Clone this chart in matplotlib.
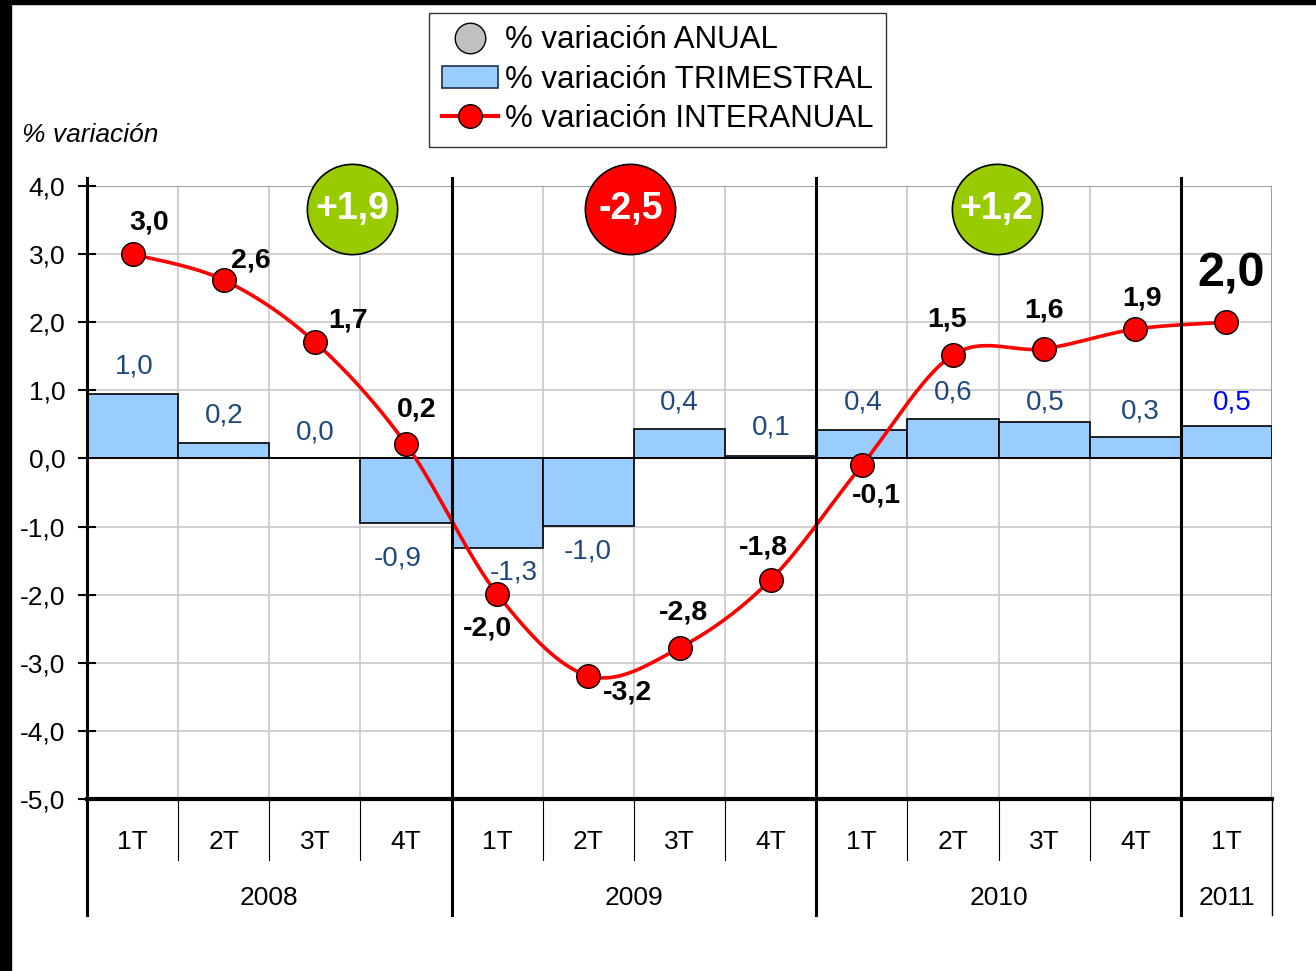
import numpy as np
import matplotlib
matplotlib.use("Agg")
import matplotlib.pyplot as plt
from matplotlib.lines import Line2D
from matplotlib.patches import Rectangle

plt.rcParams['font.family'] = ['Liberation Sans', 'DejaVu Sans']

# Data
quarters = ['1T', '2T', '3T', '4T', '1T', '2T', '3T', '4T', '1T', '2T', '3T', '4T', '1T']
years = ['2008', '2009', '2010', '2011']
year_spans = [(0, 4), (4, 8), (8, 12), (12, 13)]
trimestral = [0.95, 0.23, 0.0, -0.95, -1.31, -0.99, 0.43, 0.04, 0.42, 0.58, 0.53, 0.31, 0.48]
trimestral_labels = ['1,0', '0,2', '0,0', '-0,9', '-1,3', '-1,0', '0,4', '0,1', '0,4', '0,6', '0,5', '0,3', '0,5']
interanual = [3.0, 2.62, 1.71, 0.21, -1.99, -3.19, -2.78, -1.78, -0.10, 1.52, 1.61, 1.90, 2.00]
interanual_labels = ['3,0', '2,6', '1,7', '0,2', '-2,0', '-3,2', '-2,8', '-1,8', '-0,1', '1,5', '1,6', '1,9', '2,0']
anual_labels = ['+1,9', '-2,5', '+1,2']
anual_colors = ['#99CC00', '#FF0000', '#99CC00']
anual_pos = [2.91, 5.96, 9.98]

# label offsets in pixels (dx, dy) relative to the point / bar end
line_offsets = [(17, 32), (27, 20), (33, 22), (11, 35), (-10, -34), (39, -17),
                (4, 35), (-7, 32), (15, -30), (-6, 35), (0, 38), (7, 31), (5, 48)]
bar_offsets = [(2, 27), (0, 27), (0, 26), (-8, -35), (17, -25), (-1, -26), (0, 27),
               (1, 28), (1, 27), (0, 26), (1, 20), (5, 26), (6, 23)]


def smooth(xs, ys, n=30):
    # Excel-style smoothed line (Catmull-Rom as Bezier)
    p = np.column_stack([xs, ys]).astype(float)
    out = []
    for i in range(len(p) - 1):
        p0 = p[max(i - 1, 0)]
        p1 = p[i]
        p2 = p[i + 1]
        p3 = p[min(i + 2, len(p) - 1)]
        c1 = p1 + (p2 - p0) / 6
        c2 = p2 - (p3 - p1) / 6
        t = np.linspace(0, 1, n)[:, None]
        seg = (1 - t) ** 3 * p1 + 3 * (1 - t) ** 2 * t * c1 + 3 * (1 - t) * t ** 2 * c2 + t ** 3 * p2
        out.append(seg if i == 0 else seg[1:])
    out = np.vstack(out)
    return out[:, 0], out[:, 1]


fig = plt.figure(figsize=(13.16, 9.71), dpi=100)
ax = fig.add_axes([0.0661, 0.1771, 0.9005, 0.6313])

x = np.arange(len(quarters)) + 0.5
ax.set_xlim(0, 13)
ax.set_ylim(-5, 4)

# grid
for yv in range(-5, 5):
    ax.axhline(yv, color='#C8C8C8', lw=1.2, zorder=0)
for xv in range(1, 13):
    ax.axvline(xv, color='#C8C8C8', lw=1.2, zorder=0)
ax.axhline(4, color='#A0A0A0', lw=1.5, zorder=0)
ax.axvline(13, color='#A0A0A0', lw=1.5, zorder=0)

# bars
ax.bar(x, trimestral, width=1.0, color='#99CCFF', edgecolor='black', linewidth=1.2, zorder=2)
ax.axhline(0, color='black', lw=1.2, zorder=3)

# line
sx, sy = smooth(x, interanual)
ax.plot(sx, sy, color='red', lw=2.6, zorder=4)
ax.plot(x, interanual, 'o', color='red', markersize=17, markeredgecolor='black',
        markeredgewidth=1, zorder=5)

# year separators
for xv in [0, 4, 8, 12]:
    ax.plot([xv, xv], [1.013, -0.189], color='black', lw=2.2,
            transform=ax.get_xaxis_transform(), clip_on=False, zorder=6)
ax.plot([13, 13], [0, -0.189], color='black', lw=1, transform=ax.get_xaxis_transform(),
        clip_on=False, zorder=6)
for xv in range(1, 13):
    if xv % 4 != 0:
        ax.plot([xv, xv], [0, -0.0995], color='black', lw=0.8,
                transform=ax.get_xaxis_transform(), clip_on=False)

# category labels
for xi, q in zip(x, quarters):
    ax.text(xi, -0.07, q, transform=ax.get_xaxis_transform(), ha='center', va='center',
            fontsize=19)
for yl, (a, b) in zip(years, year_spans):
    ax.text((a + b) / 2, -0.1615, yl, transform=ax.get_xaxis_transform(), ha='center',
            va='center', fontsize=19)

# data labels
for i, (xi, v) in enumerate(zip(x, interanual)):
    dx, dy = line_offsets[i]
    big = i == len(interanual) - 1
    ax.annotate(interanual_labels[i], (xi, v), xytext=(dx, dy), textcoords='offset pixels',
                ha='center', va='center', fontweight='bold',
                fontsize=35 if big else 20.5, color='black', zorder=7)
for i, (xi, v) in enumerate(zip(x, trimestral)):
    dx, dy = bar_offsets[i]
    last = i == len(trimestral) - 1
    ax.annotate(trimestral_labels[i], (xi, v), xytext=(dx, dy), textcoords='offset pixels',
                ha='center', va='center', fontsize=20,
                color='#0000FF' if last else '#1F497D', zorder=7)

# annual circles
for lab, col, px in zip(anual_labels, anual_colors, anual_pos):
    ax.plot(px, 3.66, 'o', markersize=65, color=col, markeredgecolor='black',
            markeredgewidth=1.2, clip_on=False, zorder=8)
    ax.text(px, 3.66, lab, ha='center', va='center', color='white', fontsize=27,
            fontweight='bold', zorder=9)

# axes styling
ax.set_xticks([])
ax.set_yticks(range(-5, 5))
ax.set_yticklabels([f'{v:.1f}'.replace('.', ',') for v in range(-5, 5)], fontsize=19)
ax.tick_params(axis='y', direction='inout', length=13, width=1.5, pad=9)
for s in ['top', 'right']:
    ax.spines[s].set_visible(False)
ax.spines['left'].set_visible(False)
ax.spines['bottom'].set_linewidth(3)
ax.spines['bottom'].set_zorder(6)

fig.text(22 / 1316, 1 - 135 / 971, '% variación', fontsize=19, style='italic',
         ha='left', va='center')

# legend
handles = [
    Line2D([], [], marker='o', linestyle='none', markersize=22, markerfacecolor='#C0C0C0',
           markeredgecolor='black'),
    Rectangle((0, 0), 1, 1, facecolor='#99CCFF', edgecolor='#1F3050', linewidth=1.2),
    Line2D([], [], color='red', lw=3, marker='o', markersize=17, markerfacecolor='red',
           markeredgecolor='black'),
]
labels = ['% variación ANUAL', '% variación TRIMESTRAL', '% variación INTERANUAL']
leg = fig.legend(handles, labels, loc='upper left', bbox_to_anchor=(429 / 1316, 1 - 13 / 971),
                 fontsize=22.5, frameon=True, fancybox=False, borderaxespad=0,
                 handlelength=1.8, handletextpad=0.22, labelspacing=0.3, borderpad=0.4)
leg.get_frame().set_edgecolor('black')
leg.get_frame().set_linewidth(1)

# black edges of the original screenshot
fig.patches.append(Rectangle((0, 1 - 4 / 971), 1, 4 / 971, transform=fig.transFigure,
                             color='black', zorder=-1))
fig.patches.append(Rectangle((0, 0), 11 / 1316, 1, transform=fig.transFigure,
                             color='black', zorder=-1))

fig.savefig('out.png', dpi=100)
